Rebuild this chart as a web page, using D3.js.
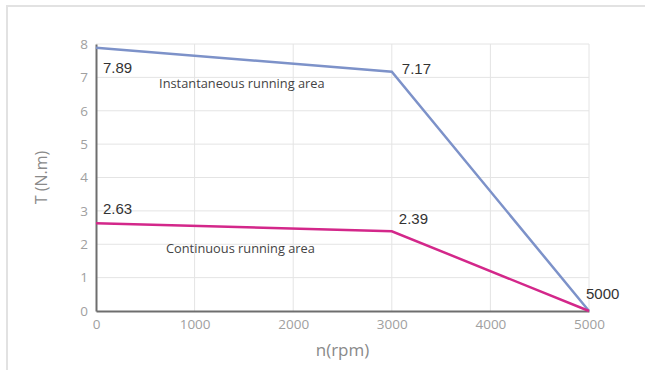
<!DOCTYPE html>
<html>
<head>
<meta charset="utf-8">
<script src="https://cdn.jsdelivr.net/npm/d3@7"></script>
<style>
    body { margin: 0; background: #fff; }
    svg { display: block; }
</style>
</head>
<body>
<svg id="chart" width="645" height="370"></svg>
<script>
// chart data
const speeds = [0, 3000, 5000];
const peak_torque = [7.89, 7.17, 0];
const rated_torque = [2.63, 2.39, 0];
const x_ticks = [0, 1000, 2000, 3000, 4000, 5000];
const y_ticks = [0, 1, 2, 3, 4, 5, 6, 7, 8];
const peak_labels = ['7.89', '7.17', '5000'];
const rated_labels = ['2.63', '2.39'];
const area_names = ['Instantaneous running area', 'Continuous running area'];

const width = 645, height = 370;
const margin = {top: 44, left: 96, right: 56, bottom: 59};
const plot_w = width - margin.left - margin.right;
const plot_h = height - margin.top - margin.bottom;

const svg = d3.select('#chart');

// outer frame (only top and left edges show)
svg.append('path')
    .attr('d', `M7,${height} L7,6 L${width},6`)
    .attr('fill', 'none')
    .attr('stroke', '#e2e2e2')
    .attr('stroke-width', 2);

const x = d3.scaleLinear().domain([0, 5000]).range([0, plot_w]);
const y = d3.scaleLinear().domain([0, 8]).range([plot_h, 0]);

const g = svg.append('g').attr('transform', `translate(${margin.left},${margin.top})`);

// grid
g.append('g').selectAll('line').data(x_ticks.slice(1)).join('line')
    .attr('x1', d => x(d)).attr('x2', d => x(d))
    .attr('y1', 0).attr('y2', plot_h)
    .attr('stroke', '#e4e4e4').attr('stroke-width', 1);
g.append('g').selectAll('line').data(y_ticks.slice(1)).join('line')
    .attr('x1', 0).attr('x2', plot_w)
    .attr('y1', d => y(d)).attr('y2', d => y(d))
    .attr('stroke', '#e4e4e4').attr('stroke-width', 1);

// axes
const x_axis = d3.axisBottom(x).tickValues(x_ticks).tickFormat(d3.format('d')).tickSize(0).tickPadding(8);
const y_axis = d3.axisLeft(y).tickValues(y_ticks).tickFormat(d3.format('d')).tickSize(0).tickPadding(8);

const xg = g.append('g').attr('transform', `translate(0,${plot_h})`).call(x_axis);
const yg = g.append('g').call(y_axis);
[xg, yg].forEach(a => {
    a.select('.domain').attr('stroke', '#6e6e6e').attr('stroke-width', 2);
    a.selectAll('text')
        .attr('fill', '#a0a0a0')
        .style('font-family', '"Open Sans", sans-serif')
        .style('font-size', '13.5px');
});

svg.append('text')
    .attr('transform', `translate(47,${margin.top + plot_h / 2}) rotate(-90)`)
    .attr('text-anchor', 'middle')
    .attr('fill', '#8a8a8a')
    .style('font-family', '"Open Sans", sans-serif')
    .style('font-size', '16px')
    .text('T (N.m)');

svg.append('text')
    .attr('x', margin.left + plot_w / 2)
    .attr('y', 356)
    .attr('text-anchor', 'middle')
    .attr('fill', '#8a8a8a')
    .style('font-family', '"Open Sans", sans-serif')
    .style('font-size', '17px')
    .text('n(rpm)');

// curves
const line = d3.line().x(d => x(d[0])).y(d => y(d[1]));
g.append('path')
    .datum(speeds.map((s, i) => [s, peak_torque[i]]))
    .attr('d', line)
    .attr('fill', 'none')
    .attr('stroke', '#7d92c9')
    .attr('stroke-width', 2.5);
g.append('path')
    .datum(speeds.map((s, i) => [s, rated_torque[i]]))
    .attr('d', line)
    .attr('fill', 'none')
    .attr('stroke', '#d3278a')
    .attr('stroke-width', 2.5);

// value labels
const label_style = sel => sel
    .attr('fill', '#333')
    .style('font-family', '"Liberation Sans", Arial, sans-serif')
    .style('font-size', '15px');

const peak_offsets = [[7, 25], [10, 2], [-3, -12]];
peak_labels.forEach((t, i) => {
    g.append('text')
        .attr('x', x(speeds[i]) + peak_offsets[i][0])
        .attr('y', y(peak_torque[i]) + peak_offsets[i][1])
        .call(label_style)
        .text(t);
});
const rated_offsets = [[7, -9], [7, -7]];
rated_labels.forEach((t, i) => {
    g.append('text')
        .attr('x', x(speeds[i]) + rated_offsets[i][0])
        .attr('y', y(rated_torque[i]) + rated_offsets[i][1])
        .call(label_style)
        .text(t);
});

// area names
const area_pos = [[x(640), y(6.68)], [x(710), y(1.73)]];
area_names.forEach((t, i) => {
    g.append('text')
        .attr('x', area_pos[i][0])
        .attr('y', area_pos[i][1])
        .attr('fill', '#444')
        .style('font-family', '"Open Sans", sans-serif')
        .style('font-size', '12.8px')
        .text(t);
});
</script>
</body>
</html>
